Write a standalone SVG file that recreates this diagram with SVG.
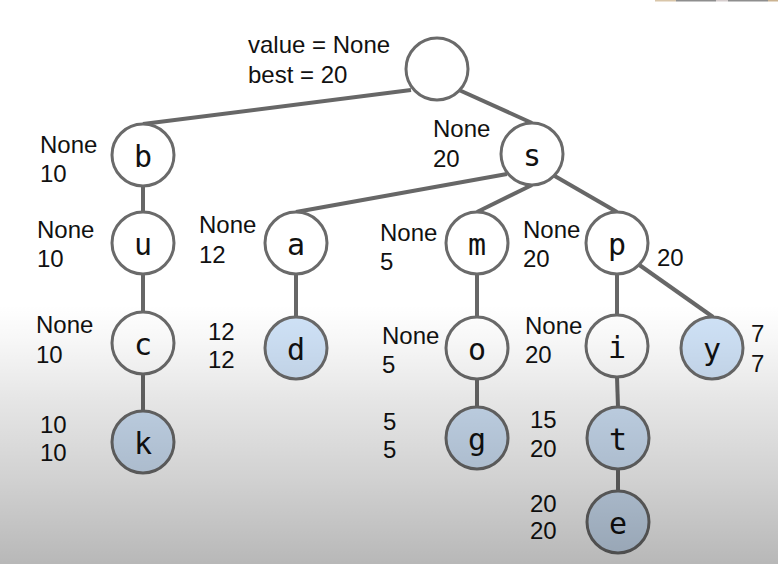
<svg xmlns="http://www.w3.org/2000/svg" width="778" height="564" viewBox="0 0 778 564">
  <defs>
    <linearGradient id="shade" x1="0" y1="0" x2="0" y2="564" gradientUnits="userSpaceOnUse">
      <stop offset="0" stop-color="#000" stop-opacity="0"/>
      <stop offset="0.54" stop-color="#000" stop-opacity="0"/>
      <stop offset="0.6" stop-color="#000" stop-opacity="0.03"/>
      <stop offset="0.71" stop-color="#000" stop-opacity="0.1"/>
      <stop offset="0.85" stop-color="#000" stop-opacity="0.18"/>
      <stop offset="1" stop-color="#000" stop-opacity="0.28"/>
    </linearGradient>
    <style>
      .node { stroke: #6a6a6a; stroke-width: 3; }
      .inner { fill: #ffffff; }
      .leaf { fill: #d0e3f8; }
      .edge { stroke: #676767; stroke-width: 4; stroke-linecap: butt; fill: none; }
      .ch { font-family: "DejaVu Sans Mono", "Liberation Mono", monospace; font-size: 30px; fill: #111; text-anchor: middle; }
      .lbl { font-family: "Liberation Sans", Arial, sans-serif; font-size: 24px; fill: #111; }
    </style>
  </defs>

  <rect x="0" y="0" width="778" height="564" fill="#ffffff"/>

  <g id="connectors">
    <line class="edge" x1="411" y1="90" x2="143" y2="124"/>
    <line class="edge" x1="459" y1="90" x2="532" y2="123"/>
    <line class="edge" x1="507" y1="174" x2="296" y2="212"/>
    <line class="edge" x1="532" y1="185" x2="477" y2="212"/>
    <line class="edge" x1="553" y1="175" x2="617" y2="212"/>
    <line class="edge" x1="143" y1="186" x2="143" y2="212"/>
    <line class="edge" x1="143" y1="274" x2="143" y2="312"/>
    <line class="edge" x1="143" y1="374" x2="143" y2="411"/>
    <line class="edge" x1="296" y1="274" x2="296" y2="317"/>
    <line class="edge" x1="477" y1="274" x2="477" y2="317"/>
    <line class="edge" x1="477" y1="379" x2="477" y2="407"/>
    <line class="edge" x1="617" y1="274" x2="617" y2="315"/>
    <line class="edge" x1="638" y1="264" x2="713" y2="317"/>
    <line class="edge" x1="617" y1="377" x2="618" y2="407"/>
    <line class="edge" x1="618" y1="469" x2="618" y2="491"/>
  </g>

  <g id="root">
    <circle class="node inner" cx="437" cy="69" r="31"/>
    <text class="lbl" x="248" y="53">value = None</text>
    <text class="lbl" x="248" y="83">best = 20</text>
  </g>
  <g id="node-b">
    <circle class="node inner" cx="143" cy="155" r="31"/>
    <text class="ch" x="143" y="167">b</text>
    <text class="lbl" x="40" y="153">None</text>
    <text class="lbl" x="40" y="182">10</text>
  </g>
  <g id="node-s">
    <circle class="node inner" cx="532" cy="154" r="31"/>
    <text class="ch" x="532" y="166">s</text>
    <text class="lbl" x="433" y="137">None</text>
    <text class="lbl" x="433" y="167">20</text>
  </g>
  <g id="node-u">
    <circle class="node inner" cx="143" cy="243" r="31"/>
    <text class="ch" x="143" y="255">u</text>
    <text class="lbl" x="37" y="238">None</text>
    <text class="lbl" x="37" y="267">10</text>
  </g>
  <g id="node-a">
    <circle class="node inner" cx="296" cy="243" r="31"/>
    <text class="ch" x="296" y="255">a</text>
    <text class="lbl" x="199" y="233">None</text>
    <text class="lbl" x="199" y="263">12</text>
  </g>
  <g id="node-m">
    <circle class="node inner" cx="477" cy="243" r="31"/>
    <text class="ch" x="477" y="255">m</text>
    <text class="lbl" x="380" y="241">None</text>
    <text class="lbl" x="380" y="270">5</text>
  </g>
  <g id="node-p">
    <circle class="node inner" cx="617" cy="243" r="31"/>
    <text class="ch" x="617" y="255">p</text>
    <text class="lbl" x="523" y="238">None</text>
    <text class="lbl" x="523" y="267">20</text>
    <text class="lbl" x="657" y="266">20</text>
  </g>
  <g id="node-c">
    <circle class="node inner" cx="143" cy="343" r="31"/>
    <text class="ch" x="143" y="355">c</text>
    <text class="lbl" x="36" y="333">None</text>
    <text class="lbl" x="36" y="363">10</text>
  </g>
  <g id="node-d">
    <circle class="node leaf" cx="296" cy="348" r="31"/>
    <text class="ch" x="296" y="360">d</text>
    <text class="lbl" x="208" y="340">12</text>
    <text class="lbl" x="208" y="368">12</text>
  </g>
  <g id="node-o">
    <circle class="node inner" cx="477" cy="348" r="31"/>
    <text class="ch" x="477" y="360">o</text>
    <text class="lbl" x="382" y="344">None</text>
    <text class="lbl" x="382" y="373">5</text>
  </g>
  <g id="node-i">
    <circle class="node inner" cx="617" cy="346" r="31"/>
    <text class="ch" x="617" y="358">i</text>
    <text class="lbl" x="525" y="334">None</text>
    <text class="lbl" x="525" y="363">20</text>
  </g>
  <g id="node-y">
    <circle class="node leaf" cx="712" cy="348" r="31"/>
    <text class="ch" x="712" y="360">y</text>
    <text class="lbl" x="751" y="342">7</text>
    <text class="lbl" x="751" y="372">7</text>
  </g>
  <g id="node-k">
    <circle class="node leaf" cx="143" cy="442" r="31"/>
    <text class="ch" x="143" y="454">k</text>
    <text class="lbl" x="40" y="433">10</text>
    <text class="lbl" x="40" y="461">10</text>
  </g>
  <g id="node-g">
    <circle class="node leaf" cx="477" cy="438" r="31"/>
    <text class="ch" x="477" y="450">g</text>
    <text class="lbl" x="383" y="430">5</text>
    <text class="lbl" x="383" y="458">5</text>
  </g>
  <g id="node-t">
    <circle class="node leaf" cx="618" cy="438" r="31"/>
    <text class="ch" x="618" y="450">t</text>
    <text class="lbl" x="530" y="428">15</text>
    <text class="lbl" x="530" y="457">20</text>
  </g>
  <g id="node-e">
    <circle class="node leaf" cx="618" cy="522" r="31"/>
    <text class="ch" x="618" y="534">e</text>
    <text class="lbl" x="530" y="512">20</text>
    <text class="lbl" x="530" y="539">20</text>
  </g>

  <rect x="0" y="0" width="778" height="564" fill="url(#shade)"/>

  <g id="topbar">
    <rect x="655" y="0" width="21" height="1.5" fill="#d9c6a9"/>
    <rect x="676" y="0" width="40" height="1.5" fill="#8e8e8e"/>
    <rect x="716" y="0" width="12" height="1.5" fill="#d6cdcd"/>
    <rect x="728" y="0" width="40" height="1.5" fill="#8e8e8e"/>
    <rect x="768" y="0" width="10" height="1.5" fill="#cbb391"/>
  </g>
</svg>
